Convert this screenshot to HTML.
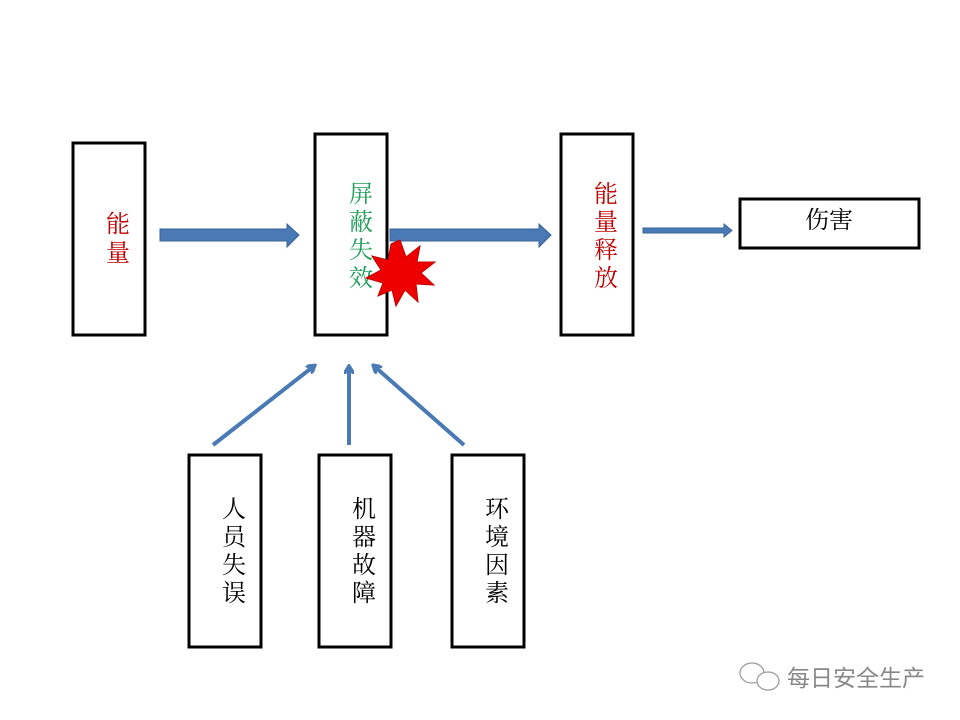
<!DOCTYPE html>
<html><head><meta charset="utf-8"><style>
html,body{margin:0;padding:0;background:#fff;}
svg{display:block;}
text{font-family:"Liberation Serif","Noto Serif CJK SC",serif;font-size:24px;text-anchor:middle;}
</style></head><body>
<svg width="960" height="720" viewBox="0 0 960 720" xmlns="http://www.w3.org/2000/svg">
<defs>
<marker id="ah" markerWidth="10" markerHeight="10" refX="7" refY="5" orient="auto" markerUnits="userSpaceOnUse">
<path d="M0,0 L8,5 L0,10" fill="none" stroke="#4a7ab5" stroke-width="3.5"/>
</marker>
</defs>
<g fill="none" stroke="#000" stroke-width="3">
<rect x="73" y="143" width="72" height="192"/>
<rect x="315" y="134" width="72" height="201"/>
<rect x="561" y="134" width="72" height="201"/>
<rect x="740" y="199" width="179" height="49"/>
<rect x="189" y="455" width="72" height="192"/>
<rect x="319" y="455" width="72" height="192"/>
<rect x="452" y="455" width="72" height="192"/>
</g>
<g fill="#4a7ab5" stroke="#3a6396" stroke-width="1">
<path d="M160,229 H287 V224 L299,235 L287,247 V241 H160 Z"/>
<path d="M390,229 H539 V224 L551,235 L539,247 V241 H390 Z"/>
<path d="M643,228 H724 V224 L732,230.5 L724,237 V233 H643 Z"/>
</g>
<g stroke="#4a7ab5" stroke-width="4" fill="none" marker-end="url(#ah)">
<line x1="213" y1="445" x2="314" y2="366"/>
<line x1="349" y1="445" x2="349" y2="367"/>
<line x1="464" y1="445" x2="374" y2="366"/>
</g>
<g fill="#c00000">
<text x="118" y="232">能</text><text x="118" y="261">量</text>
</g>
<g fill="#1e9e5a">
<text x="361" y="202">屏</text><text x="361" y="230">蔽</text><text x="361" y="258">失</text><text x="361" y="286">效</text>
</g>
<polygon fill="#ee0000" stroke="#c00000" stroke-width="1" points="400,240 406,257 420,246 417,262 435,262 421,273 434,285 416,284 418,302 405,290 396,306 392,290 378,296 383,283 366,278 381,270 372,256 388,260 391,244"/>
<g fill="#c00000">
<text x="606" y="202">能</text><text x="606" y="230">量</text><text x="606" y="258">释</text><text x="606" y="286">放</text>
</g>
<text x="829" y="228" fill="#000">伤害</text>
<g fill="#000">
<text x="234" y="517">人</text><text x="234" y="545">员</text><text x="234" y="573">失</text><text x="234" y="601">误</text>
<text x="364" y="517">机</text><text x="364" y="545">器</text><text x="364" y="573">故</text><text x="364" y="601">障</text>
<text x="497" y="517">环</text><text x="497" y="545">境</text><text x="497" y="573">因</text><text x="497" y="601">素</text>
</g>
<g fill="none" stroke="#999" stroke-width="1.2">
<ellipse cx="752" cy="673" rx="12" ry="10"/>
<ellipse cx="768" cy="681" rx="11" ry="9" fill="#fff"/>
</g>
<text x="856" y="686" fill="#888" style="font-family:'Liberation Sans','Noto Sans CJK SC',sans-serif;font-size:23px">每日安全生产</text>
</svg>
</body></html>
